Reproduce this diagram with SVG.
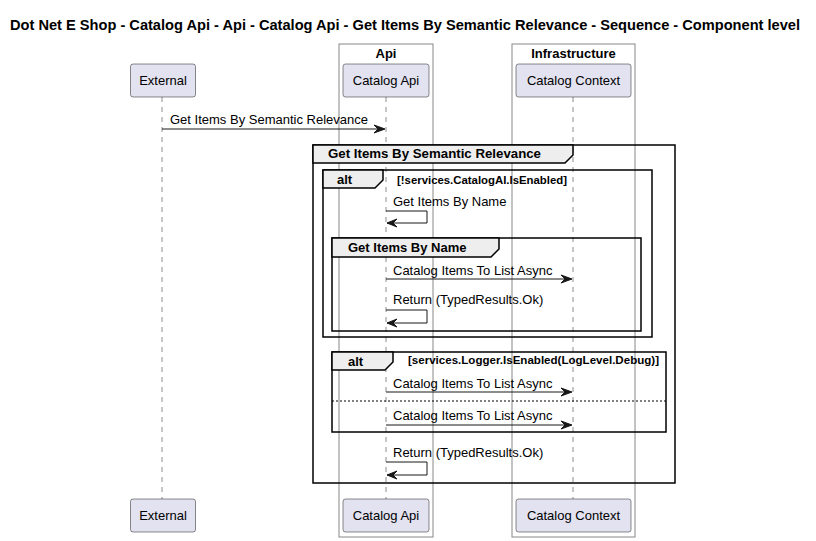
<svg xmlns="http://www.w3.org/2000/svg" width="816" height="541" viewBox="0 0 816 541">
<style>
text{font-family:"Liberation Sans",Arial,sans-serif;fill:#000}
.t{font-size:14px;font-weight:bold}
.b{font-size:13px;font-weight:bold}
.g{font-size:11px;font-weight:bold}
.m{font-size:13px}
.p{font-size:13px;text-anchor:middle}
.box{fill:none;stroke:#888888;stroke-width:1}
.part{fill:#E2E2F0;stroke:#181818;stroke-width:0.5}
.life{stroke:#181818;stroke-width:0.5;stroke-dasharray:5,5;fill:none}
.frame{fill:none;stroke:#000;stroke-width:1.5}
.tab{fill:#EEEEEE;stroke:#000;stroke-width:1.5}
.msg{fill:none;stroke:#181818;stroke-width:1}
.ah{fill:#181818;stroke:#181818;stroke-width:1}
</style>
<rect width="816" height="541" fill="#FFFFFF"/>
<text class="t" x="10" y="30" textLength="790" lengthAdjust="spacingAndGlyphs">Dot Net E Shop - Catalog Api - Api - Catalog Api - Get Items By Semantic Relevance - Sequence - Component level</text>

<g id="box-api">
<rect class="box" x="339" y="44" width="94" height="493"/>
<text class="b" x="386" y="58" text-anchor="middle">Api</text>
</g>
<g id="box-infrastructure">
<rect class="box" x="512" y="44" width="123" height="493"/>
<text class="b" x="573.5" y="58" text-anchor="middle">Infrastructure</text>
</g>

<g id="lifelines">
<line class="life" x1="162" y1="97" x2="162" y2="499"/>
<line class="life" x1="386" y1="97" x2="386" y2="499"/>
<line class="life" x1="573" y1="97" x2="573" y2="499"/>
</g>

<g id="frame-semantic">
<rect class="frame" x="313" y="145" width="362" height="338"/>
<path class="tab" d="M313,145 H573 V155 L565,163 H313 Z"/>
<text class="b" x="328" y="158" textLength="213" lengthAdjust="spacingAndGlyphs">Get Items By Semantic Relevance</text>
</g>
<g id="frame-alt1">
<rect class="frame" x="323" y="170" width="329" height="167"/>
<path class="tab" d="M323,170 H383 V180 L375,188 H323 Z"/>
<text class="b" x="337" y="184">alt</text>
<text class="g" x="397" y="184" textLength="170" lengthAdjust="spacingAndGlyphs">[!services.CatalogAI.IsEnabled]</text>
</g>
<g id="frame-byname">
<rect class="frame" x="332" y="238" width="309" height="93"/>
<path class="tab" d="M332,238 H499 V249 L491,257 H332 Z"/>
<text class="b" x="348" y="252">Get Items By Name</text>
</g>
<g id="frame-alt2">
<rect class="frame" x="332" y="352" width="334" height="80"/>
<path class="tab" d="M332,352 H393 V362 L385,370 H332 Z"/>
<text class="b" x="348" y="366">alt</text>
<text class="g" x="408" y="364" textLength="251" lengthAdjust="spacingAndGlyphs">[services.Logger.IsEnabled(LogLevel.Debug)]</text>
<line x1="332" y1="401" x2="666" y2="401" stroke="#000" stroke-width="1" stroke-dasharray="2,2"/>
</g>

<g id="connectors">
<line class="msg" x1="162" y1="129" x2="384" y2="129"/>
<polygon class="ah" points="374,125 385,129 374,133 378,129"/>
<text class="m" x="170" y="124">Get Items By Semantic Relevance</text>

<polyline class="msg" points="386,211 427,211 427,223 387,223"/>
<polygon class="ah" points="397,219 387,223 397,227 393,223"/>
<text class="m" x="393" y="206">Get Items By Name</text>

<line class="msg" x1="386" y1="279" x2="571" y2="279"/>
<polygon class="ah" points="561,275 572,279 561,283 565,279"/>
<text class="m" x="393" y="275">Catalog Items To List Async</text>

<polyline class="msg" points="386,310 427,310 427,323 387,323"/>
<polygon class="ah" points="397,319 387,323 397,327 393,323"/>
<text class="m" x="393" y="304">Return (TypedResults.Ok)</text>

<line class="msg" x1="386" y1="392" x2="571" y2="392"/>
<polygon class="ah" points="561,388 572,392 561,396 565,392"/>
<text class="m" x="393" y="388">Catalog Items To List Async</text>

<line class="msg" x1="386" y1="425" x2="571" y2="425"/>
<polygon class="ah" points="561,421 572,425 561,429 565,425"/>
<text class="m" x="393" y="420">Catalog Items To List Async</text>

<polyline class="msg" points="386,462 427,462 427,475 387,475"/>
<polygon class="ah" points="397,471 387,475 397,479 393,475"/>
<text class="m" x="393" y="457">Return (TypedResults.Ok)</text>
</g>

<g id="external">
<rect class="part" x="130.5" y="64" width="65" height="33" rx="2.5"/>
<text class="p" x="163" y="85">External</text>
<rect class="part" x="130.5" y="499" width="65" height="33" rx="2.5"/>
<text class="p" x="163" y="520">External</text>
</g>
<g id="catalog-api">
<rect class="part" x="343" y="64" width="86" height="33" rx="2.5"/>
<text class="p" x="386" y="85">Catalog Api</text>
<rect class="part" x="343" y="499" width="86" height="33" rx="2.5"/>
<text class="p" x="386" y="520">Catalog Api</text>
</g>
<g id="catalog-context">
<rect class="part" x="516" y="64" width="115" height="33" rx="2.5"/>
<text class="p" x="573.5" y="85">Catalog Context</text>
<rect class="part" x="516" y="499" width="115" height="33" rx="2.5"/>
<text class="p" x="573.5" y="520">Catalog Context</text>
</g>
</svg>
